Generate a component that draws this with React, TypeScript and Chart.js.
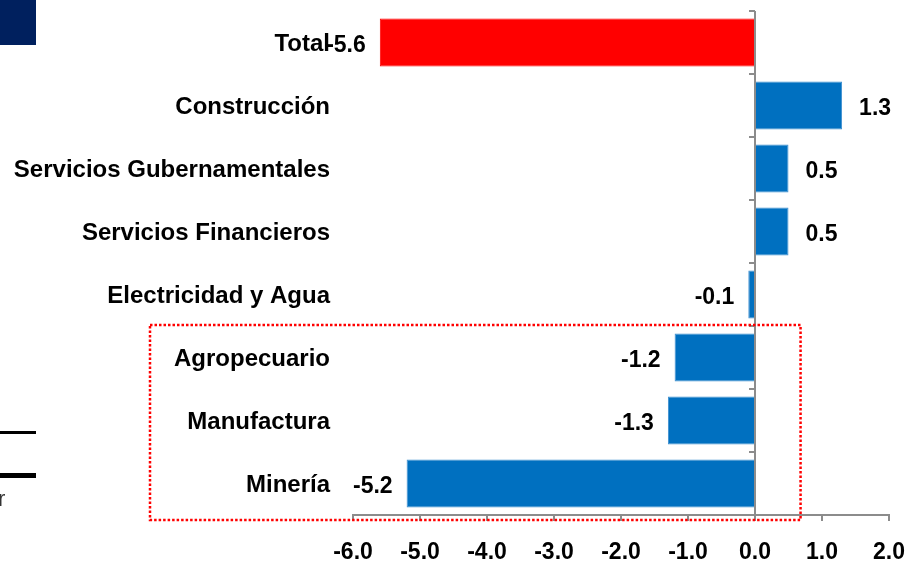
import React, { useEffect, useRef } from "react";
import { Chart, registerables } from "chart.js";

Chart.register(...registerables);

const categories = [
  "Total",
  "Construcción",
  "Servicios Gubernamentales",
  "Servicios Financieros",
  "Electricidad y Agua",
  "Agropecuario",
  "Manufactura",
  "Minería",
];
const values = [-5.6, 1.3, 0.5, 0.5, -0.1, -1.2, -1.3, -5.2];
const xMin = -6;
const xMax = 2;
const highlightedFrom = "Agropecuario"; // start of dotted box group
const boxRightValue = 0.68;

const BLUE = "#0070C0";
const RED = "#FF0000";
const AXIS = "#8c8c8c";
const FONT = "'Liberation Sans', Arial, sans-serif";

const decorPlugin = {
  id: "decor",
  beforeDraw(chart: any) {
    const ctx = chart.ctx;
    ctx.save();
    ctx.fillStyle = "#fff";
    ctx.fillRect(0, 0, chart.width, chart.height);
    // cropped slide fragments on the left edge
    ctx.fillStyle = "#00205E";
    ctx.fillRect(0, 0, 36, 45);
    ctx.fillStyle = "#000";
    ctx.fillRect(0, 431, 36, 3);
    ctx.fillRect(0, 473, 36, 5);
    ctx.fillStyle = "#333";
    ctx.font = `22px ${FONT}`;
    ctx.textBaseline = "alphabetic";
    ctx.textAlign = "left";
    ctx.fillText("r", -2, 506);
    ctx.restore();
  },
};

const overlayPlugin = {
  id: "overlay",
  afterDatasetsDraw(chart: any) {
    const ctx = chart.ctx;
    const xs = chart.scales.x;
    const ys = chart.scales.y;
    const x0 = xs.getPixelForValue(0);
    const band = ys.getPixelForTick(1) - ys.getPixelForTick(0);
    ctx.save();
    // category tick marks on the zero line
    ctx.strokeStyle = AXIS;
    ctx.lineWidth = 2;
    for (let i = 0; i <= categories.length; i++) {
      const y = ys.getPixelForTick(0) - band / 2 + i * band;
      ctx.beginPath();
      ctx.moveTo(x0 - 6, y);
      ctx.lineTo(x0, y);
      ctx.stroke();
    }
    // data labels
    ctx.fillStyle = "#000";
    ctx.font = `bold 23px ${FONT}`;
    ctx.textBaseline = "middle";
    const meta = chart.getDatasetMeta(0);
    meta.data.forEach((bar: any, i: number) => {
      const v = values[i];
      const txt = v.toFixed(1);
      if (v >= 0) {
        ctx.textAlign = "left";
        ctx.fillText(txt, bar.x + 17, bar.y + 3);
      } else {
        ctx.textAlign = "right";
        ctx.fillText(txt, bar.x - 14, bar.y + 3);
      }
    });
    // dotted red box
    const idx = categories.indexOf(highlightedFrom);
    const top = ys.getPixelForTick(idx) - band / 2 - 1;
    const bottom = chart.chartArea.bottom + 5;
    const right = xs.getPixelForValue(boxRightValue);
    const left = 150;
    ctx.strokeStyle = RED;
    ctx.lineWidth = 2.5;
    ctx.setLineDash([2.5, 2]);
    ctx.strokeRect(left, top, right - left, bottom - top);
    ctx.restore();
  },
};

export default function App() {
  const ref = useRef<HTMLCanvasElement | null>(null);
  useEffect(() => {
    document.body.style.margin = "0";
    const chart = new Chart(ref.current as HTMLCanvasElement, {
      type: "bar",
      data: {
        labels: categories,
        datasets: [
          {
            data: values,
            backgroundColor: categories.map((c, i) => (i === 0 ? RED : BLUE)),
            borderColor: categories.map((c, i) => (i === 0 ? RED : "#3d8fd0")),
            borderWidth: 1,
            categoryPercentage: 1,
            barPercentage: 0.76,
          },
        ],
      },
      options: {
        indexAxis: "y",
        animation: false,
        responsive: false,
        layout: { padding: { top: 11, right: 22, left: 0, bottom: 0 } },
        plugins: { legend: { display: false }, tooltip: { enabled: false } },
        scales: {
          x: {
            type: "linear",
            min: xMin,
            max: xMax,
            afterFit: (s: any) => {
              s.height = 46;
              s.paddingLeft = 0;
              s.paddingRight = 0;
              s.paddingTop = 0;
              s.paddingBottom = 0;
            },
            ticks: {
              stepSize: 1,
              callback: (v: any) => Number(v).toFixed(1),
              font: { family: FONT, size: 23, weight: "bold" },
              color: "#000",
              padding: 18,
              maxRotation: 0,
            },
            grid: {
              color: (c: any) => (c.tick && c.tick.value === 0 ? AXIS : "transparent"),
              lineWidth: 2,
              tickColor: AXIS,
              tickLength: 6,
              drawOnChartArea: true,
            },
            border: { display: true, color: AXIS, width: 2 },
          },
          y: {
            type: "category",
            afterFit: (s: any) => {
              s.width = 353;
              s.paddingLeft = 0;
              s.paddingRight = 0;
              s.paddingTop = 0;
              s.paddingBottom = 0;
            },
            ticks: {
              font: { family: FONT, size: 24, weight: "bold" },
              color: "#000",
              padding: 23,
              labelOffset: 2,
              autoSkip: false,
            },
            grid: { display: false, drawTicks: false },
            border: { display: false },
          },
        },
      },
      plugins: [decorPlugin, overlayPlugin],
    } as any);
    return () => chart.destroy();
  }, []);
  return (
    <div style={{ width: 911, height: 561 }}>
      <canvas ref={ref} width={911} height={561} style={{ display: "block" }} />
    </div>
  );
}
